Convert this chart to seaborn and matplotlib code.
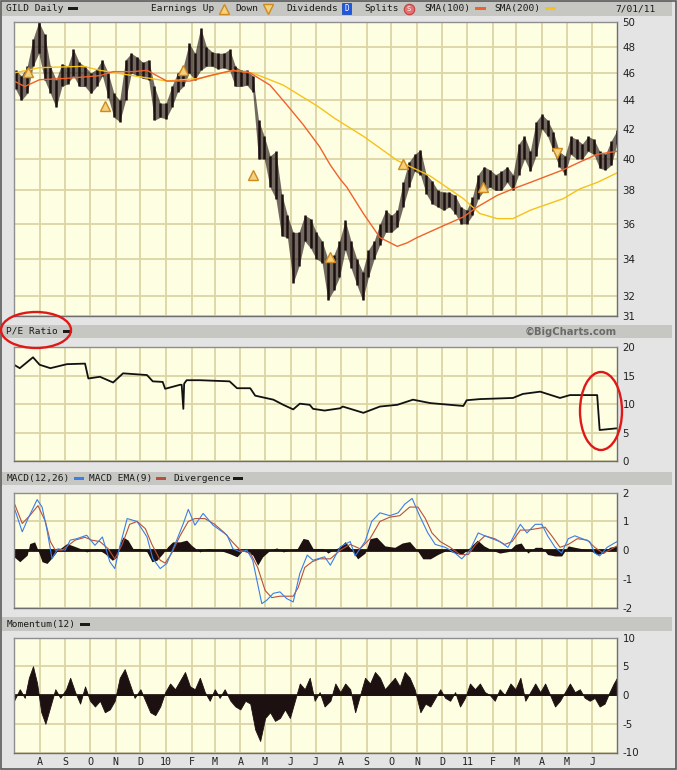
import numpy as np
import pandas as pd
import matplotlib
matplotlib.use("Agg")
import matplotlib.pyplot as plt
import matplotlib.ticker as mticker
from matplotlib.patches import Rectangle, Ellipse
from matplotlib.lines import Line2D
import seaborn as sns

# ---------------- data ----------------
START = pd.Timestamp("2009-07-01")
week_dates = pd.date_range("2009-07-03", periods=105, freq="W-FRI")

week_low = [44.8, 44.0, 44.5, 46.5, 47.5, 45.5, 44.5, 43.5, 45.0, 45.2,
            45.8, 45.0, 45.0, 44.5, 45.0, 45.8, 44.2, 42.8, 42.5, 44.0,
            46.0, 45.8, 45.6, 45.5, 42.6, 42.8, 42.7, 43.5, 44.6, 45.0,
            46.0, 45.5, 46.2, 46.5, 46.5, 46.3, 46.4, 46.2, 45.0, 45.0,
            45.1, 44.6, 40.0, 40.0, 38.2, 37.5, 35.3, 35.2, 32.7, 33.6,
            35.0, 34.6, 34.0, 33.8, 31.8, 32.3, 33.0, 34.5, 33.5, 32.6,
            31.8, 33.0, 34.0, 34.8, 35.5, 35.5, 35.8, 37.0, 38.2, 39.2,
            39.0, 37.8, 37.2, 37.0, 36.8, 37.0, 36.6, 36.0, 36.0, 36.5,
            37.5, 38.0, 38.2, 38.0, 38.0, 38.5, 38.0, 39.0, 40.0, 39.2,
            40.2, 42.0, 41.5, 40.5, 39.5, 39.0, 40.3, 40.0, 40.0, 40.5,
            40.3, 39.4, 39.3, 39.6, 41.0]
week_high = [46.2, 45.8, 46.5, 48.6, 50.0, 49.0, 46.5, 45.5, 46.7, 46.5,
             47.8, 46.8, 46.5, 46.0, 46.3, 47.0, 46.0, 44.5, 44.0, 47.0,
             47.5, 47.2, 46.8, 47.0, 45.0, 43.8, 43.8, 45.0, 46.0, 46.5,
             48.3, 47.5, 49.5, 48.0, 47.6, 47.5, 47.5, 47.8, 46.5, 46.2,
             46.2, 45.8, 42.6, 41.5, 40.2, 40.5, 37.8, 36.5, 35.5, 35.5,
             36.5, 36.3, 35.5, 35.0, 34.0, 34.2, 35.0, 36.2, 35.0, 34.0,
             33.3, 34.5, 35.0, 36.0, 36.8, 36.5, 36.8, 38.5, 39.8, 40.3,
             40.6, 39.0, 38.6, 38.0, 37.9, 37.9, 37.7, 37.0, 36.8, 37.6,
             39.0, 39.5, 39.3, 39.0, 39.2, 39.5, 39.0, 41.0, 41.5, 40.5,
             42.5, 43.0, 42.6, 41.8, 40.5, 40.2, 41.5, 41.3, 41.0, 41.5,
             41.3, 40.5, 40.3, 41.2, 41.9]

sma100_day = [0, 13, 31, 64, 104, 120, 144, 161, 185, 213, 237, 265, 286, 310, 330, 350, 370, 383,
              395, 403, 423, 443, 464, 476, 488, 516, 544, 561, 585, 604, 625, 645, 665, 685, 706, 730]
sma100 = [45.4, 45.0, 45.5, 45.6, 45.8, 46.1, 46.1, 46.2, 45.4, 45.4, 45.8, 46.2, 46.0, 45.1, 43.7, 42.3,
          40.8, 39.6, 38.7, 38.2, 36.6, 35.2, 34.7, 34.9, 35.2, 35.8, 36.4, 37.0, 37.7, 38.1, 38.5, 38.9,
          39.3, 39.8, 40.3, 40.5]
sma200_day = [0, 31, 84, 104, 144, 185, 225, 265, 289, 326, 367, 389, 423, 464, 504, 544, 564, 585,
              604, 625, 665, 685, 706, 730]
sma200 = [46.0, 46.4, 46.5, 46.2, 45.8, 45.4, 45.6, 46.2, 46.0, 45.1, 43.6, 42.7, 41.5, 39.9, 38.9,
          37.5, 36.6, 36.3, 36.3, 36.8, 37.5, 38.1, 38.5, 39.1]

earn_day = [17, 110, 205, 289, 383, 471, 568, 657]
earn_price = [46.1, 43.6, 46.2, 39.0, 34.1, 39.7, 38.2, 40.4]
earn_kind = ["up", "up", "up", "up", "up", "up", "up", "down"]

pe_day = [0, 7, 23, 31, 44, 64, 86, 90, 104, 120, 132, 161, 168, 180, 183, 201, 203, 205, 206, 209,
          225, 261, 270, 286, 292, 314, 326, 338, 346, 358, 362, 376, 395, 398, 423, 443, 464, 483,
          504, 544, 548, 564, 604, 616, 637, 661, 673, 706, 709, 730]
pe = [16.9, 16.3, 18.2, 16.9, 16.3, 17.0, 17.1, 14.5, 14.8, 13.8, 15.4, 15.1, 14.0, 13.9, 12.7, 13.4,
      13.4, 9.2, 13.6, 14.2, 14.2, 14.0, 12.8, 12.8, 11.5, 10.8, 9.9, 9.1, 10.1, 9.9, 9.2, 8.9, 9.3,
      9.6, 8.5, 9.6, 9.9, 10.8, 10.2, 9.7, 10.7, 10.9, 11.1, 11.8, 12.2, 11.1, 11.6, 11.6, 5.5, 5.8]

macd_day = [0, 10, 16, 28, 34, 40, 46, 53, 62, 68, 76, 88, 98, 107, 116, 122, 128, 137, 149, 161,
            168, 177, 185, 197, 205, 211, 219, 229, 241, 258, 265, 274, 282, 289, 300, 306, 314, 322,
            330, 338, 346, 355, 362, 376, 383, 395, 407, 413, 425, 433, 443, 455, 465, 473, 482, 491,
            501, 510, 522, 534, 542, 552, 562, 570, 579, 588, 598, 607, 613, 621, 631, 639, 646, 655,
            663, 671, 679, 688, 697, 703, 709, 718, 730]
macd = [1.5, 0.64, 1.04, 1.76, 1.5, 0.7, -0.29, 0.05, 0, 0.35, 0.4, 0.52, 0.17, 0.46, -0.4, -0.64,
        0.12, 1.1, 1.0, 0.46, -0.29, -0.64, -0.46, 0.35, 0.93, 1.42, 0.87, 1.28, 0.87, 0.52, 0.05,
        -0.06, 0, -0.35, -1.86, -1.74, -1.5, -1.45, -1.68, -1.8, -0.81, -0.17, -0.35, -0.23, -0.52,
        0.12, 0.3, -0.2, 0.3, 1.0, 1.3, 1.2, 1.3, 1.6, 1.8, 1.2, 0.6, 0.2, 0.1, -0.1, -0.3, 0.0, 0.6,
        0.5, 0.4, 0.3, 0.1, 0.6, 0.9, 0.6, 0.9, 0.9, 0.5, 0.1, -0.1, 0.4, 0.5, 0.4, 0.3, -0.1, -0.2,
        0.1, 0.3]
ema_day = [0, 10, 19, 29, 38, 44, 50, 58, 65, 74, 86, 94, 104, 114, 122, 131, 140, 149, 159, 167,
           177, 183, 191, 201, 211, 219, 231, 243, 255, 264, 274, 286, 295, 304, 312, 322, 330, 338,
           344, 352, 361, 370, 383, 395, 407, 419, 431, 443, 455, 467, 479, 489, 498, 506, 516, 528,
           540, 550, 559, 570, 582, 594, 603, 613, 622, 633, 643, 651, 661, 671, 682, 694, 703, 713,
           721, 730]
ema = [1.66, 0.93, 1.2, 1.55, 1.0, 0.3, 0.0, 0.0, 0.15, 0.35, 0.45, 0.35, 0.3, 0.05, -0.3, 0.2, 0.9,
       1.0, 0.75, 0.2, -0.35, -0.45, -0.1, 0.5, 1.0, 1.1, 1.1, 0.9, 0.6, 0.3, 0.0, -0.1, -0.6, -1.4,
       -1.65, -1.6, -1.6, -1.6, -1.3, -0.6, -0.4, -0.3, -0.3, 0.0, 0.2, 0.05, 0.4, 1.0, 1.15, 1.2,
       1.5, 1.5, 1.1, 0.6, 0.3, 0.1, -0.15, -0.15, 0.2, 0.5, 0.4, 0.2, 0.3, 0.7, 0.7, 0.75, 0.8, 0.5,
       0.1, 0.2, 0.4, 0.35, 0.1, -0.1, 0.0, 0.15]
div_day = [0, 7, 16, 19, 25, 29, 34, 40, 47, 53, 64, 70, 80, 88, 100, 110, 119, 125, 128, 132,
           138, 144, 153, 161, 167, 173, 180, 186, 192, 201, 209, 215, 225, 234, 249, 261, 270, 277,
           289, 295, 301, 310, 318, 326, 334, 343, 350, 356, 362, 374, 380, 386, 395, 401, 409, 416,
           425, 431, 439, 449, 461, 470, 479, 488, 495, 504, 513, 524, 534, 542, 552, 561, 569, 579,
           588, 598, 607, 614, 622, 631, 639, 646, 655, 663, 671, 679, 688, 697, 706, 714, 721, 730]
div = [-0.23, -0.4, -0.17, 0.23, 0.29, 0, -0.4, -0.46, -0.23, 0, 0.23, 0.17, 0.06, -0.06, 0.06,
       -0.12, -0.35, -0.23, 0.23, 0.46, 0.35, 0.06, 0.06, -0.06, -0.4, -0.35, -0.12, 0.12, 0.29, 0.29,
       0.35, 0.17, -0.06, 0.06, 0, -0.12, -0.23, 0, -0.17, -0.52, -0.23, 0, 0.08, -0.06, 0, 0.06,
       0.41, 0.37, 0.06, 0.06, -0.1, 0, 0.12, 0.3, 0.0, -0.3, -0.1, 0.4, 0.45, 0.15, 0.1, 0.25, 0.3,
       0.0, -0.3, -0.3, -0.15, 0.0, -0.1, -0.15, 0.1, 0.35, 0.15, 0.0, -0.1, -0.05, 0.2, 0.25, -0.1,
       0.1, 0.1, -0.15, -0.2, -0.2, 0.15, 0.1, 0.05, 0.0, -0.15, -0.1, 0.1, 0.15]
mom_day = [0, 7, 13, 18, 23, 28, 33, 38, 44, 50, 56, 63, 68, 74, 80, 86, 92, 98, 104, 110,
           116, 122, 128, 134, 140, 146, 153, 159, 165, 171, 177, 183, 189, 195, 201, 207, 213, 219,
           225, 231, 237, 243, 249, 255, 262, 268, 274, 280, 286, 292, 298, 304, 310, 316, 322, 328,
           334, 340, 346, 352, 358, 364, 370, 376, 383, 389, 395, 401, 407, 413, 419, 425, 431, 437,
           443, 449, 455, 461, 467, 473, 479, 485, 492, 498, 504, 510, 516, 522, 528, 534, 540, 546,
           552, 558, 564, 570, 576, 582, 588, 594, 601, 607, 613, 619, 625, 631, 637, 643, 649, 655,
           661, 667, 673, 679, 685, 691, 697, 703, 709, 715, 721, 726, 730]
mom = [-1, 1, -0.5, 3, 5, 2, -3, -5, -2, 1, -0.5, 1, 3, 0.5, -1.5, 1.5, -1, -2, -1, -3,
       -2.5, -1, 3, 4.5, 2, -0.5, 1, -1, -3, -3.5, -2, 0.5, 2, 1, 2.5, 4, 1.5, 1, 3, 0.5,
       -1, 1, -0.5, 1, -1, -2, -2.5, -1, -1.5, -6, -8, -4, -3, -4.5, -4, -2.5, -4, -1, 2, 1,
       3, -1, 0.5, -2, -1, 2, 0.5, 2, 1, -3, 0, 3, 2, 4, 3, 1, 2, 3, 1.5, 4,
       3, 1, -3, -1.5, -2, -0.5, 1, -0.5, -1, 0.5, -2, -0.5, 2, 1, 2, 0.5, 0, -1, 1, 0,
       2, 1, 3, -1, 0.5, 2, 0.5, 2, 0, -2, -1, 0.5, 2, 0.5, 1, -0.5, -1, -0.5, -2, -1.5,
       0.5, 2, 3]

month_labels = ["A", "S", "O", "N", "D", "10", "F", "M", "A", "M", "J", "J",
                "A", "S", "O", "N", "D", "11", "F", "M", "A", "M", "J"]
price_ticks = [31, 32, 34, 36, 38, 40, 42, 44, 46, 48, 50]

# ---------------- figure ----------------
W, H = 677, 770
sns.set_theme(style="white")
plt.rcParams["font.family"] = ["DejaVu Sans"]
fig = plt.figure(figsize=(W / 100, H / 100), dpi=100)
fig.patch.set_facecolor("#e4e4e4")

MONO = "DejaVu Sans Mono"
week_day = [(d - START).days for d in week_dates]
month_days = [(d - START).days for d in pd.date_range("2009-08-01", "2011-06-01", freq="MS")]

BG = "#fefee2"
GRID = "#dbd4a6"
INK = "#1c1010"


def rect_px(x, y, w, h, **kw):
    fig.add_artist(Rectangle((x / W, 1 - (y + h) / H), w / W, h / H,
                             transform=fig.transFigure, **kw))


def text_px(x, y, s, **kw):
    kw.setdefault("fontfamily", MONO)
    kw.setdefault("fontsize", 6.8)
    kw.setdefault("va", "center")
    kw.setdefault("color", "#1a1a1a")
    fig.text(x / W, 1 - y / H, s, **kw)


def marker_px(x, y, **kw):
    fig.add_artist(Line2D([x / W], [1 - y / H], transform=fig.transFigure, **kw))


# strips
for (y0, h) in [(1.5, 14), (325, 13), (472, 13), (617, 14)]:
    rect_px(2, y0, 670, h, facecolor="#c6c6c2", edgecolor="none")


def make_ax(top, bottom):
    ax = fig.add_axes([14 / W, 1 - bottom / H, 603 / W, (bottom - top) / H])
    ax.set_facecolor(BG)
    for s in ax.spines.values():
        s.set_color("#8e8e8e")
        s.set_linewidth(1.0)
    ax.spines["bottom"].set_color("#6e6e6e")
    ax.spines["right"].set_color("#6e6e6e")
    ax.set_xlim(0, 730)
    ax.set_xticks(month_days)
    ax.grid(True, color=GRID, linewidth=1.3)
    ax.set_axisbelow(True)
    ax.yaxis.tick_right()
    ax.tick_params(axis="both", length=0)
    ax.tick_params(axis="y", pad=4, labelsize=7.4, labelcolor="#202020")
    ax.tick_params(axis="x", labelbottom=False)
    return ax


ax_p = make_ax(21.7, 315.7)
ax_pe = make_ax(347, 461.5)
ax_m = make_ax(492.7, 607.7)
ax_mo = make_ax(637.5, 752.5)

# ---- price panel ----
ax_p.set_yscale("log")
ax_p.set_ylim(31, 50)
ax_p.yaxis.set_minor_locator(mticker.NullLocator())
ax_p.set_yticks(price_ticks)
ax_p.set_yticklabels([str(t) for t in price_ticks])
ax_p.fill_between(week_day, week_low, week_high, color=INK, alpha=0.62, linewidth=0)
ax_p.vlines(week_day, week_low, week_high, color=INK, linewidth=1.8)
sns.lineplot(x=sma200_day, y=sma200, ax=ax_p, color="#f6c21a", linewidth=1.0, legend=False)
sns.lineplot(x=sma100_day, y=sma100, ax=ax_p, color="#f0622c", linewidth=1.0, legend=False)
for d, p, k in zip(earn_day, earn_price, earn_kind):
    ax_p.plot([d], [p], marker="^" if k == "up" else "v", markersize=6.5,
              markerfacecolor="#f2d27c", markeredgecolor="#d08a22", markeredgewidth=1.0, zorder=5)
ax_p.set_xlabel("")
ax_p.set_ylabel("")

# ---- P/E panel ----
ax_pe.set_ylim(0, 20)
ax_pe.set_yticks([0, 5, 10, 15, 20])
ax_pe.set_yticklabels(["0", "5", "10", "15", "20"])
sns.lineplot(x=pe_day, y=pe, ax=ax_pe, color="#111111", linewidth=1.3, legend=False)
ax_pe.set_xlabel("")
ax_pe.set_ylabel("")

# ---- MACD panel ----
ax_m.set_ylim(-2, 2)
ax_m.set_yticks([-2, -1, 0, 1, 2])
ax_m.set_yticklabels(["-2", "-1", "0", "1", "2"])
ax_m.fill_between(div_day, 0, div, color=INK, linewidth=0)
ax_m.axhline(0, color=INK, linewidth=2.0)
sns.lineplot(x=ema_day, y=ema, ax=ax_m, color="#b8503c", linewidth=0.8, legend=False)
sns.lineplot(x=macd_day, y=macd, ax=ax_m, color="#3a7fe6", linewidth=0.8, legend=False)
ax_m.set_xlabel("")
ax_m.set_ylabel("")

# ---- Momentum panel ----
ax_mo.set_ylim(-10, 10)
ax_mo.set_yticks([-10, -5, 0, 5, 10])
ax_mo.set_yticklabels(["-10", "-5", "0", "5", "10"])
ax_mo.fill_between(mom_day, 0, mom, color=INK, linewidth=0.6, edgecolor=INK)
ax_mo.axhline(0, color=INK, linewidth=1.2)
ax_mo.tick_params(axis="x", labelbottom=True, pad=3, labelsize=7.2, labelcolor="#202020")
ax_mo.set_xticklabels(month_labels, fontfamily=MONO)
ax_mo.set_xlabel("")
ax_mo.set_ylabel("")

# ---------------- header texts ----------------
text_px(6.5, 8.5, "GILD Daily")
rect_px(68, 7, 10, 3, facecolor="#1a1a1a", edgecolor="none")
text_px(151, 8.5, "Earnings Up")
marker_px(224, 8.5, marker="^", markersize=7, markerfacecolor="#f2d27c",
          markeredgecolor="#d08a22", markeredgewidth=1.0)
text_px(235, 8.5, "Down")
marker_px(268, 8.5, marker="v", markersize=7, markerfacecolor="#f2d27c",
          markeredgecolor="#d08a22", markeredgewidth=1.0)
text_px(286, 8.5, "Dividends")
rect_px(342, 3.5, 9, 10, facecolor="#1f57e0", edgecolor="#1040b0", linewidth=0.5)
text_px(346.5, 8.7, "D", color="white", fontsize=5.5, ha="center")
text_px(364, 8.5, "Splits")
marker_px(409, 8.5, marker="o", markersize=7.5, markerfacecolor="#e87070",
          markeredgecolor="#c04040", markeredgewidth=0.8)
text_px(409, 8.7, "S", color="white", fontsize=5, ha="center")
text_px(424, 8.5, "SMA(100)")
rect_px(475, 7, 11, 3, facecolor="#f0622c", edgecolor="none")
text_px(494, 8.5, "SMA(200)")
rect_px(545, 7, 11, 3, facecolor="#f6c21a", edgecolor="none")
text_px(656, 8.5, "7/01/11", ha="right")

text_px(6.5, 331.5, "P/E Ratio")
rect_px(63, 330, 9, 3, facecolor="#1a1a1a", edgecolor="none")
text_px(616.5, 331.5, "\u00a9BigCharts.com", ha="right", fontfamily="DejaVu Sans",
        fontweight="bold", fontsize=7.2, color="#6a6a6a")

text_px(6.5, 478.5, "MACD(12,26)")
rect_px(74, 477, 10, 3, facecolor="#3a7fe6", edgecolor="none")
text_px(89, 478.5, "MACD EMA(9)")
rect_px(156, 477, 10, 3, facecolor="#b8503c", edgecolor="none")
text_px(173, 478.5, "Divergence")
rect_px(233, 477, 10, 3, facecolor="#1a1a1a", edgecolor="none")

text_px(6.5, 624, "Momentum(12)")
rect_px(80, 622.5, 10, 3, facecolor="#1a1a1a", edgecolor="none")

# ---------------- red annotation ellipses ----------------
for cx, cy, ew, eh in [(36, 330, 70, 36), (601, 411, 42, 78)]:
    fig.add_artist(Ellipse((cx / W, 1 - cy / H), ew / W, eh / H, transform=fig.transFigure,
                           fill=False, edgecolor="#e01818", linewidth=1.7, zorder=10))

# outer border
fig.add_artist(Rectangle((0.001, 0.001), 0.998, 0.998, transform=fig.transFigure,
                         fill=False, edgecolor="#5a5a5a", linewidth=1.2))

fig.savefig("out.png", dpi=100, facecolor=fig.get_facecolor())
